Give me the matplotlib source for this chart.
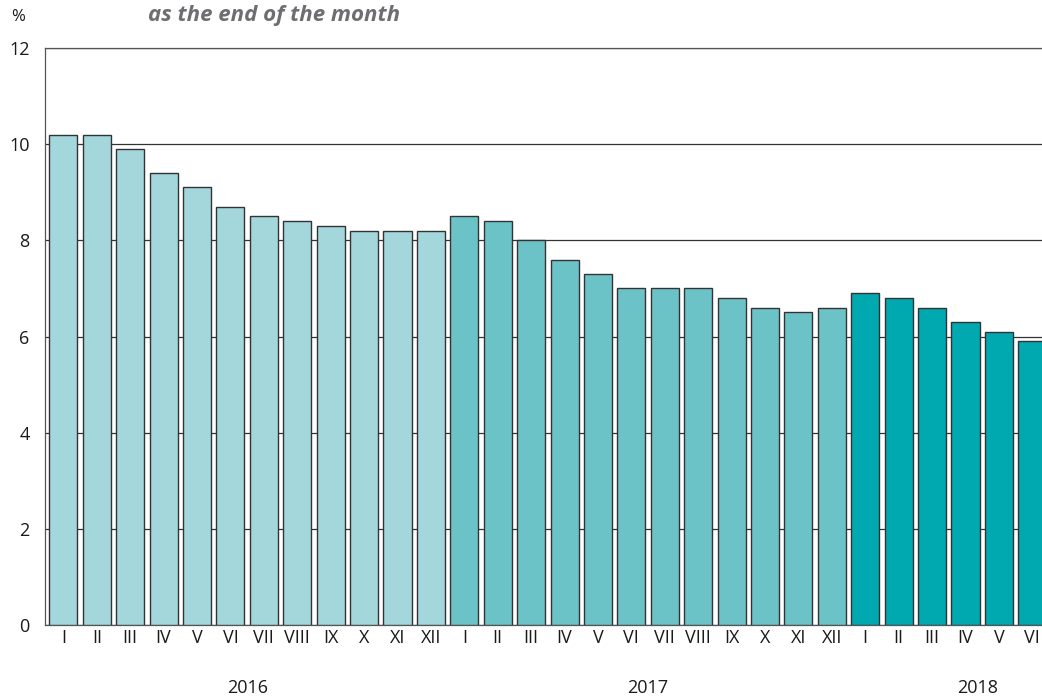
import matplotlib
matplotlib.use("Agg")
import matplotlib.pyplot as plt
import numpy as np

months_2016 = ["I","II","III","IV","V","VI","VII","VIII","IX","X","XI","XII"]
months_2017 = ["I","II","III","IV","V","VI","VII","VIII","IX","X","XI","XII"]
months_2018 = ["I","II","III","IV","V","VI"]
values_2016 = [10.2,10.2,9.9,9.4,9.1,8.7,8.5,8.4,8.3,8.2,8.2,8.2]
values_2017 = [8.5,8.4,8.0,7.6,7.3,7.0,7.0,7.0,6.8,6.6,6.5,6.6]
values_2018 = [6.9,6.8,6.6,6.3,6.1,5.9]
years = ["2016","2017","2018"]
colors = ["#A3D7DB", "#6BC3C8", "#00A8B0"]

plt.rcParams['font.family'] = ['Open Sans', 'DejaVu Sans']

fig = plt.figure(figsize=(10.42, 6.99), dpi=100)
ax = fig.add_axes([45/1042, 74/699, 1004/1042, 577/699])

series = [(months_2016, values_2016), (months_2017, values_2017), (months_2018, values_2018)]
labels = []
start = 0
year_pos = []
for (m, v), c in zip(series, colors):
    x = np.arange(start, start + len(v))
    ax.bar(x, v, width=0.84, color=c, edgecolor="#333333", linewidth=1.0, zorder=3)
    labels += m
    year_pos.append(x.mean())
    start += len(v)

ax.set_xlim(-0.55, start - 0.5)
ax.set_ylim(0, 12)
ax.set_yticks([0, 2, 4, 6, 8, 10, 12])
ax.yaxis.grid(True, color="#333333", linewidth=0.9, zorder=0)
ax.set_axisbelow(True)
ax.set_xticks(np.arange(start))
ax.set_xticklabels(labels)
ax.tick_params(axis="both", length=0, labelsize=13, colors="#1a1a1a")
ax.tick_params(axis="y", pad=11)
ax.tick_params(axis="x", pad=3)
ax.spines["right"].set_visible(False)
for s in ["top", "left", "bottom"]:
    ax.spines[s].set_color("#555555")
    ax.spines[s].set_linewidth(0.9)

year_pos[2] = 27.35
for yp, y in zip(year_pos, years):
    ax.text(yp, -0.109, y, transform=ax.get_xaxis_transform(), ha="center", va="center",
            fontsize=13, color="#1a1a1a")

fig.text(18/1042, 1 - 17/699, "%", ha="center", va="center", fontsize=12, color="#1a1a1a")
fig.text(148/1042, 1 - 15/699, "as the end of the month", ha="left", va="center",
         fontsize=16, fontweight="bold", fontstyle="italic", color="#6d6e71")

fig.savefig("out.png", dpi=100)
